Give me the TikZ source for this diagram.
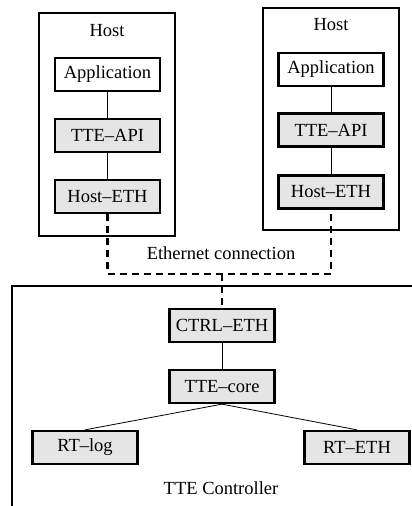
\documentclass[tikz,border=0pt]{standalone}
\usepackage{fontspec}
\setmainfont{Liberation Serif}
\begin{document}
\begin{tikzpicture}[x=1pt,y=-1pt,
  every node/.style={font=\fontsize{18.5}{21}\selectfont, inner sep=0pt},
  hostbox/.style={draw, line width=2pt, minimum width=136pt},
  layer/.style={draw, line width=2.3pt, fill=gray!20, minimum width=105pt, minimum height=33pt},
  appbox/.style={layer, fill=white},
  link/.style={line width=0.8pt},
  ethlink/.style={line width=2.4pt, dash pattern=on 7pt off 5pt}]
\useasboundingbox (0,0) rectangle (412,506);

% controller enclosure (runs off the right and bottom edges)
\draw[line width=2pt] (12,530) -- (12,286) -- (440,286);

% left host
\node[hostbox, minimum height=223pt] (hostL) at (107,124.5) {};
\node (hostLt) at (107,31) {Host};
\node[appbox] (appL) at (107.5,74.5) {Application};
\node[layer] (apiL) at (107.5,135.5) {TTE--API};
\node[layer] (ethL) at (107.5,196.5) {Host--ETH};

% right host
\node[hostbox, minimum height=222pt] (hostR) at (331,119) {};
\node (hostRt) at (331,25) {Host};
\node[appbox] (appR) at (331,69.5) {Application};
\node[layer] (apiR) at (331,130) {TTE--API};
\node[layer] (ethR) at (331,192) {Host--ETH};

% controller
\node[layer] (ctrl) at (222,325.5) {CTRL--ETH};
\node[layer] (core) at (222,386.5) {TTE--core};
\node[layer] (rtlog) at (85,447.5) {RT--log};
\node[layer] (rteth) at (357,447.5) {RT--ETH};
\node (ctrlt) at (221,488) {TTE Controller};

% ethernet bus
\coordinate (bus) at (222,274);
\node (etht) at (221,253) {Ethernet connection};
\draw[ethlink] (ethL.south) |- (bus) -| (ethR.south);
\draw[ethlink] (bus) -- (ctrl.north);

% internal connections
\draw[link] (appL) -- (apiL);
\draw[link] (apiL) -- (ethL);
\draw[link] (appR) -- (apiR);
\draw[link] (apiR) -- (ethR);
\draw[link] (ctrl) -- (core);
\draw[link] (core.south) -- (rtlog.north);
\draw[link] (core.south) -- (rteth.north);
\end{tikzpicture}
\end{document}
